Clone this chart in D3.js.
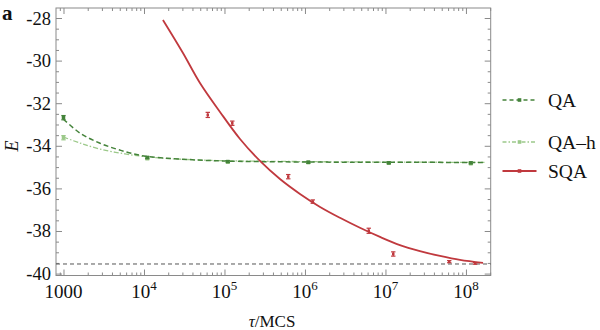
<!DOCTYPE html>
<html><head><meta charset="utf-8">
<script src="https://cdn.jsdelivr.net/npm/d3@7"></script>
<style>body{margin:0;background:#fff}svg{display:block}</style>
</head><body>
<svg id="c" width="600" height="330"></svg>
<script>
// ---- data ----
const xMajorTicks = [1e3, 1e4, 1e5, 1e6, 1e7, 1e8];
const xTickLabels = [["1000",""],["10","4"],["10","5"],["10","6"],["10","7"],["10","8"]];
const yMajorTicks = [-28, -30, -32, -34, -36, -38, -40];
const yTickLabels = ["-28","-30","-32","-34","-36","-38","-40"];

const qaTau = [1000, 1.1e4, 1.1e5, 1.1e6, 1.1e7, 1.15e8];
const qaE   = [-32.68, -34.55, -34.74, -34.77, -34.8, -34.8];
const qaErr = [0.1, 0.05, 0.04, 0.04, 0.04, 0.04];

const qahTau = [1000, 1.1e4, 1.1e5, 1.1e6, 1.1e7, 1.15e8];
const qahE   = [-33.62, -34.6, -34.77, -34.79, -34.81, -34.84];
const qahErr = [0.1, 0.05, 0.04, 0.04, 0.04, 0.04];

const sqaTau = [6.2e4, 1.25e5, 6.2e5, 1.25e6, 6.2e6, 1.25e7, 6.2e7, 1.3e8];
const sqaE   = [-32.55, -32.94, -35.45, -36.62, -37.99, -39.08, -39.44, -39.52];
const sqaErr = [0.12, 0.1, 0.1, 0.08, 0.12, 0.1, 0.05, 0.04];

// fitted curves
const qaFitTau = [1000, 1600, 2800, 5000, 1e4, 2.8e4, 9e4, 9e5, 1.7e8];
const qaFitE   = [-32.75, -33.40, -33.87, -34.20, -34.48, -34.62, -34.71, -34.76, -34.78];
const qahFitTau = [1000, 1600, 2800, 5800, 1.19e4, 5e4, 8.7e5, 1.7e8];
const qahFitE   = [-33.59, -33.87, -34.15, -34.38, -34.53, -34.67, -34.74, -34.78];
const sqaFitTau = [1.72e4, 3.05e4, 4.96e4, 8.8e4, 1.56e5, 2.76e5, 4.89e5, 8.67e5, 1.54e6, 2.72e6, 4.82e6, 8.55e6, 1.51e7, 2.68e7, 4.76e7, 8.42e7, 1.63e8];
const sqaFitE   = [-28.09, -29.64, -31.05, -32.41, -33.68, -34.71, -35.56, -36.26, -36.87, -37.38, -37.85, -38.28, -38.66, -38.94, -39.17, -39.36, -39.50];

const groundE = -39.55;

const legendNames = ["QA", "QA\u2013h", "SQA"];

// ---- drawing ----
const svg = d3.select("#c");
const L = 56, R = 490.7, T = 8, B = 275.5;
const x = d3.scaleLog().domain([807, 2.03e8]).range([L, R]);
const y = d3.scaleLinear().domain([-40.09, -27.53]).range([B, T]);

const cQA = "#44833a", cQAh = "#9cc98a", cSQA = "#c0393e", frameC = "#8a8a8a";
const serif = "Liberation Serif";

const xMinor = [];
for (let e = 2; e <= 8; e++) for (let m = 1; m <= 9; m++) {
  const v = m * Math.pow(10, e);
  if (v >= 807 && v <= 2.03e8 && m !== 1) xMinor.push(v);
}
const yMinor = d3.range(-40, -27.5, 0.5).filter(v => Math.abs(v % 2) > 1e-9);

function ax(axisFn, scale, vals, size, tr) {
  const g = svg.append("g").attr("transform", tr)
    .call(axisFn(scale).tickValues(vals).tickSize(size).tickSizeOuter(0).tickFormat(""));
  g.select(".domain").remove();
  g.selectAll("line").attr("stroke", frameC).attr("stroke-width", 1);
  return g;
}
ax(d3.axisBottom, x, xMajorTicks, -6, `translate(0,${B})`);
ax(d3.axisBottom, x, xMinor, -3, `translate(0,${B})`);
ax(d3.axisTop, x, xMajorTicks, -6, `translate(0,${T})`);
ax(d3.axisTop, x, xMinor, -3, `translate(0,${T})`);
ax(d3.axisLeft, y, yMajorTicks, -6, `translate(${L},0)`);
ax(d3.axisLeft, y, yMinor, -3, `translate(${L},0)`);
ax(d3.axisRight, y, yMajorTicks, -6, `translate(${R},0)`);
ax(d3.axisRight, y, yMinor, -3, `translate(${R},0)`);

svg.append("rect").attr("x", L).attr("y", T).attr("width", R - L).attr("height", B - T)
  .attr("fill", "none").attr("stroke", frameC).attr("stroke-width", 1);

xMajorTicks.forEach((v, i) => {
  const t = svg.append("text").attr("x", x(v)).attr("y", 298)
    .attr("text-anchor", "middle").attr("font-family", serif).attr("font-size", 19).attr("fill", "#111");
  t.append("tspan").text(xTickLabels[i][0]);
  if (xTickLabels[i][1]) t.append("tspan").attr("dy", -8).attr("font-size", 13).text(xTickLabels[i][1]);
});
yMajorTicks.forEach((v, i) => {
  svg.append("text").attr("x", 51).attr("y", y(v) + 6.5).attr("text-anchor", "end")
    .attr("font-family", serif).attr("font-size", 18.5).attr("fill", "#111").text(yTickLabels[i]);
});

svg.append("text").attr("transform", "translate(18,146) rotate(-90)").attr("text-anchor", "middle")
  .attr("font-family", serif).attr("font-style", "italic").attr("font-size", 18).attr("fill", "#111").text("E");
const xt = svg.append("text").attr("x", 272).attr("y", 327).attr("text-anchor", "middle")
  .attr("font-family", serif).attr("font-size", 17).attr("fill", "#111");
xt.append("tspan").attr("font-style", "italic").text("\u03c4");
xt.append("tspan").text("/MCS");
svg.append("text").attr("x", 2).attr("y", 20).attr("font-family", serif).attr("font-weight", "bold")
  .attr("font-size", 21).attr("fill", "#111").text("a");

svg.append("line").attr("x1", L).attr("x2", R).attr("y1", y(groundE)).attr("y2", y(groundE))
  .attr("stroke", "#555").attr("stroke-width", 1).attr("stroke-dasharray", "4,3");

const line = d3.line().x(d => x(d[0])).y(d => y(d[1])).curve(d3.curveCatmullRom.alpha(0.5));
const zip = (a, b) => a.map((v, i) => [v, b[i]]);

svg.append("path").attr("d", line(zip(qahFitTau, qahFitE))).attr("fill", "none")
  .attr("stroke", cQAh).attr("stroke-width", 1.3).attr("stroke-dasharray", "5,2,1.5,2");
svg.append("path").attr("d", line(zip(qaFitTau, qaFitE))).attr("fill", "none")
  .attr("stroke", cQA).attr("stroke-width", 1.5).attr("stroke-dasharray", "5,3");
svg.append("path").attr("d", line(zip(sqaFitTau, sqaFitE))).attr("fill", "none")
  .attr("stroke", cSQA).attr("stroke-width", 1.8);

function points(tau, E, err, col, size) {
  const g = svg.append("g");
  tau.forEach((t, i) => {
    const cx = x(t), y0 = y(E[i] + err[i]), y1 = y(E[i] - err[i]);
    g.append("line").attr("x1", cx).attr("x2", cx).attr("y1", y0).attr("y2", y1).attr("stroke", col).attr("stroke-width", 1.2);
    g.append("line").attr("x1", cx - 2.2).attr("x2", cx + 2.2).attr("y1", y0).attr("y2", y0).attr("stroke", col).attr("stroke-width", 1.2);
    g.append("line").attr("x1", cx - 2.2).attr("x2", cx + 2.2).attr("y1", y1).attr("y2", y1).attr("stroke", col).attr("stroke-width", 1.2);
    g.append("rect").attr("x", cx - size / 2).attr("y", y(E[i]) - size / 2).attr("width", size).attr("height", size).attr("fill", col);
  });
}
points(qahTau, qahE, qahErr, cQAh, 3.5);
points(qaTau, qaE, qaErr, cQA, 3.5);
points(sqaTau, sqaE, sqaErr, cSQA, 2.5);

const legY = [100, 142, 171];
const legCol = [cQA, cQAh, cSQA];
const legDash = ["4,3", "4,2,1.5,2", null];
const legW = [1.5, 1.3, 1.8];
legendNames.forEach((n, i) => {
  const l = svg.append("line").attr("x1", 502.5).attr("x2", 536.5).attr("y1", legY[i]).attr("y2", legY[i])
    .attr("stroke", legCol[i]).attr("stroke-width", legW[i]);
  if (legDash[i]) l.attr("stroke-dasharray", legDash[i]);
  svg.append("rect").attr("x", 519.5 - 1.8).attr("y", legY[i] - 1.8).attr("width", 3.6).attr("height", 3.6).attr("fill", legCol[i]);
  svg.append("text").attr("x", 548).attr("y", legY[i] + 6.5).attr("font-family", serif).attr("font-size", 19.5)
    .attr("fill", "#111").text(n);
});
</script>
</body></html>
